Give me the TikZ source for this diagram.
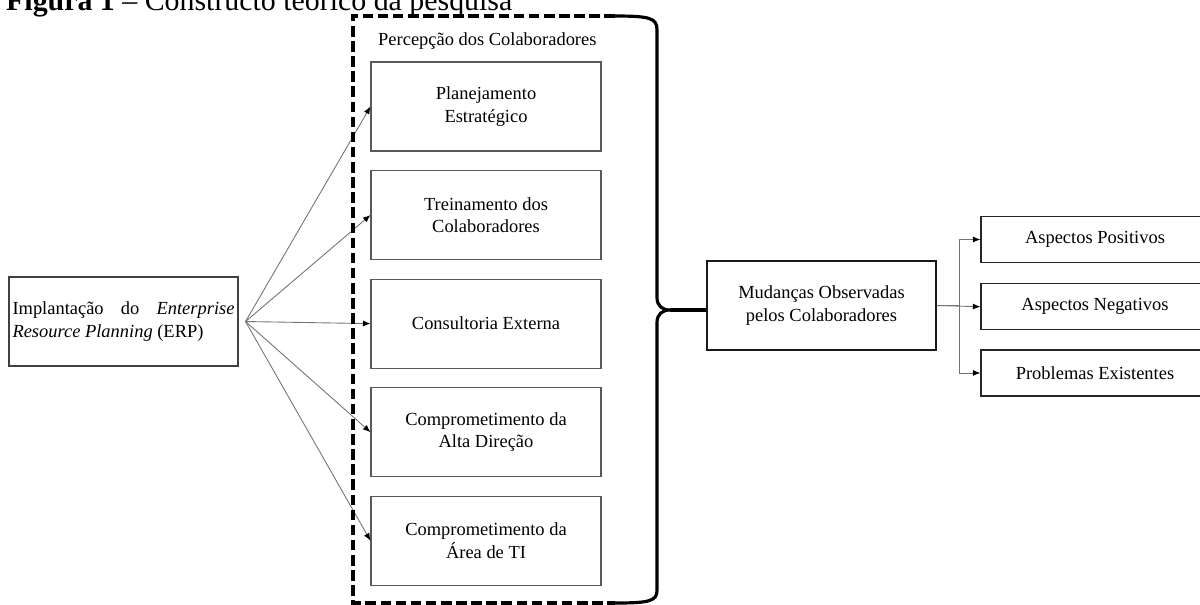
\documentclass[tikz,border=0pt]{standalone}
\usepackage{fontspec}
\setmainfont{Liberation Serif}
\usetikzlibrary{positioning,arrows.meta,calc}

\begin{document}
\begin{tikzpicture}[every node/.style={font=\fontsize{10.5}{12.8}\selectfont}, node distance=3.7mm,
  inbox/.style={draw=black!65,line width=0.6pt,minimum width=4.6cm,minimum height=1.78cm,align=center,inner sep=0pt},
  outbox/.style={draw=black!85,line width=0.7pt,minimum width=4.56cm,minimum height=0.92cm,inner sep=0pt},
  arr/.style={-{Latex[length=1.5mm,width=1.2mm,color=black]},draw=black!55,line width=0.5pt}]
  \useasboundingbox (0,0) rectangle (24,-12.08);
  \node[anchor=base west,font=\fontsize{17}{20}\selectfont] (title) at (0,-0.21)
    {\textbf{Figura 1} -- Constructo teórico da pesquisa};

  % ERP box and the five factors
  \node[draw=black!75,line width=0.6pt,minimum width=4.58cm,minimum height=1.78cm,
    text width=4.44cm,inner xsep=0.07cm,align=justify] (erp) at (2.47,-6.43)
    {Implantação do \textit{Enterprise}\linebreak \textit{Resource Planning} (ERP)};
  \coordinate (fan) at ($(erp.east)+(0.14,0)$);

  \node[anchor=base west] (perc) at (7.44,-0.9) {Percepção dos Colaboradores};
  \node[inbox] (plan) at (9.72,-2.13) {Planejamento\\Estratégico};
  \node[inbox,below=of plan] (trein) {Treinamento dos\\Colaboradores};
  \node[inbox,below=of trein] (cons) {Consultoria Externa};
  \node[inbox,below=of cons] (alta) {Comprometimento da\\Alta Direção};
  \node[inbox,below=of alta] (ti) {Comprometimento da\\Área de TI};

  \foreach \n in {plan,trein,cons,alta,ti}
    \draw[arr] (fan) -- (\n.west);

  % dashed frame and brace
  \draw[line width=2.1pt,dash pattern=on 6pt off 2.6pt]
    (12.3,-0.32) -- (7.06,-0.32) -- (7.06,-12.06) -- (12.3,-12.06);
  \coordinate (tip) at (13.4,-6.2);
  \draw[line width=1.8pt,line join=round]
    (12.3,-0.32) .. controls (13.0,-0.32) and (13.14,-0.36) .. (13.14,-0.6)
    -- (13.14,-5.95) .. controls (13.14,-6.12) and (13.25,-6.2) .. (tip)
    .. controls (13.25,-6.2) and (13.14,-6.28) .. (13.14,-6.45)
    -- (13.14,-11.8) .. controls (13.14,-12.02) and (13.0,-12.06) .. (12.3,-12.06);

  % changes and outcomes
  \node[draw=black!90,line width=0.7pt,minimum width=4.58cm,minimum height=1.78cm,
    align=center,inner sep=0pt] (mud) at (16.43,-6.11)
    {Mudanças Observadas\\pelos Colaboradores};
  \draw[line width=1.8pt] (tip) -- (tip -| mud.west);

  \node[outbox] (pos) at (21.9,-4.79) {Aspectos Positivos};
  \node[outbox,below=0.4cm of pos] (neg) {Aspectos Negativos};
  \node[outbox,below=0.38cm of neg] (prob) {Problemas Existentes};

  \draw[arr] (mud.east) -- (neg.west);
  \draw[arr] (mud.east) -- ++(0.46,0) |- (pos.west);
  \draw[arr] (mud.east) -- ++(0.46,0) |- (prob.west);
\end{tikzpicture}
\end{document}
